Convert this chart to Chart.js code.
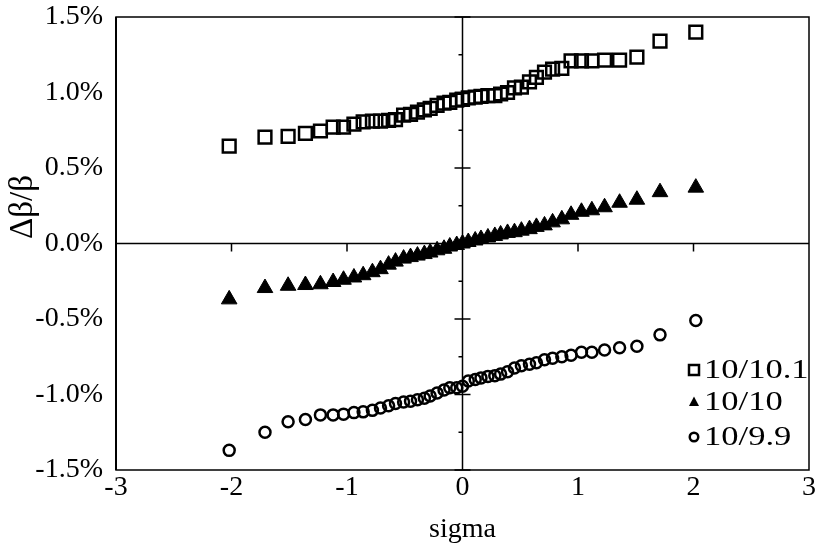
<!DOCTYPE html>
<html>
<head>
<meta charset="utf-8">
<script src="https://cdn.jsdelivr.net/npm/chart.js@4.4.0/dist/chart.umd.min.js"></script>
<style>
body { margin: 0; background: #fff; }
canvas { display: block; }
</style>
</head>
<body>
<canvas id="chart" width="836" height="558"></canvas>
<script>
// normal quantile position of each run (same for all three sets)
let sigma = [-2.02, -1.71, -1.51, -1.36, -1.23, -1.12, -1.03, -0.94, -0.86, -0.78,
    -0.71, -0.64, -0.58, -0.51, -0.45, -0.39, -0.33, -0.28, -0.22, -0.16,
    -0.11, -0.05, 0, 0.05, 0.11, 0.16, 0.22, 0.28, 0.33, 0.39,
    0.45, 0.51, 0.58, 0.64, 0.71, 0.78, 0.86, 0.94, 1.03, 1.12,
    1.23, 1.36, 1.51, 1.71, 2.02];

// delta beta / beta in %
let beta101 = [0.645, 0.705, 0.71, 0.73, 0.745, 0.77, 0.77, 0.79, 0.805, 0.81,
    0.81, 0.815, 0.82, 0.85, 0.855, 0.87, 0.885, 0.895, 0.915, 0.93,
    0.935, 0.95, 0.955, 0.965, 0.97, 0.975, 0.98, 0.98, 0.99, 1.0,
    1.03, 1.035, 1.07, 1.10, 1.135, 1.155, 1.16, 1.21, 1.21, 1.21,
    1.215, 1.215, 1.235, 1.34, 1.40];
let beta100 = [-0.37, -0.295, -0.28, -0.275, -0.27, -0.255, -0.24, -0.225, -0.21, -0.19,
    -0.17, -0.14, -0.12, -0.10, -0.09, -0.08, -0.07, -0.06, -0.045, -0.035,
    -0.02, -0.01, 0.0, 0.01, 0.02, 0.03, 0.04, 0.05, 0.06, 0.07,
    0.075, 0.085, 0.095, 0.11, 0.12, 0.14, 0.16, 0.19, 0.21, 0.22,
    0.24, 0.27, 0.29, 0.34, 0.37];
let beta99 = [-1.37, -1.25, -1.18, -1.165, -1.135, -1.135, -1.13, -1.12, -1.115, -1.105,
    -1.09, -1.075, -1.06, -1.05, -1.045, -1.035, -1.025, -1.01, -0.99, -0.97,
    -0.955, -0.955, -0.945, -0.91, -0.90, -0.89, -0.88, -0.875, -0.865, -0.85,
    -0.825, -0.81, -0.80, -0.79, -0.77, -0.76, -0.75, -0.74, -0.72, -0.72,
    -0.705, -0.69, -0.68, -0.605, -0.51];

let labels = ["10/10.1", "10/10", "10/9.9"];
let xTicks = [-3, -2, -1, 0, 1, 2, 3];
let yTicks = [-1.5, -1.0, -0.5, 0.0, 0.5, 1.0, 1.5];

const serif = '"Liberation Serif", "Times New Roman", serif';

function points(ys) {
    return sigma.map((x, i) => ({x: x, y: ys[i]}));
}

function marker(ctx, style, x, y, r) {
    ctx.beginPath();
    if (style === 'rect') {
        ctx.rect(x - r, y - r, 2 * r, 2 * r);
        ctx.stroke();
    } else if (style === 'triangle') {
        ctx.moveTo(x, y - r * 1.1);
        ctx.lineTo(x + r, y + r * 0.8);
        ctx.lineTo(x - r, y + r * 0.8);
        ctx.closePath();
        ctx.fill();
    } else {
        ctx.arc(x, y, r * 0.85, 0, Math.PI * 2);
        ctx.stroke();
    }
}

const frame = {
    id: 'frame',
    beforeDatasetsDraw(chart) {
        let ctx = chart.ctx;
        let a = chart.chartArea;
        let xs = chart.scales.x, ys = chart.scales.y;
        let x0 = xs.getPixelForValue(0), y0 = ys.getPixelForValue(0);
        ctx.save();
        ctx.strokeStyle = '#000';
        ctx.lineWidth = 1.5;
        ctx.strokeRect(a.left, a.top, a.right - a.left, a.bottom - a.top);
        ctx.lineWidth = 2;
        ctx.beginPath();
        ctx.moveTo(a.left, a.top);
        ctx.lineTo(a.left, a.bottom);
        ctx.stroke();
        // axes crossing at zero
        ctx.lineWidth = 1.5;
        ctx.beginPath();
        ctx.moveTo(a.left, y0);
        ctx.lineTo(a.right, y0);
        ctx.moveTo(x0, a.top);
        ctx.lineTo(x0, a.bottom);
        xTicks.slice(1, -1).forEach(v => {
            let px = xs.getPixelForValue(v);
            ctx.moveTo(px, y0);
            ctx.lineTo(px, y0 + 8);
        });
        for (let v = -1.5; v <= 1.5; v += 0.25) {
            let py = ys.getPixelForValue(v);
            let major = Math.abs(v * 2 - Math.round(v * 2)) < 0.01;
            ctx.moveTo(x0 - (major ? 8 : 4), py);
            ctx.lineTo(x0 + (major ? 8 : 0), py);
        }
        ctx.stroke();
        ctx.restore();
    },
    afterDraw(chart) {
        let ctx = chart.ctx;
        let a = chart.chartArea;
        ctx.save();
        ctx.fillStyle = '#000';
        ctx.strokeStyle = '#000';
        ctx.textBaseline = 'middle';
        // axis titles
        ctx.font = '28px ' + serif;
        ctx.textAlign = 'center';
        ctx.fillText('sigma', (a.left + a.right) / 2, 530);
        ctx.save();
        ctx.translate(23, 207);
        ctx.rotate(-Math.PI / 2);
        ctx.font = '33px ' + serif;
        ctx.fillText('Δβ/β', 0, 0);
        ctx.restore();
        // legend
        let rows = [370, 402, 437];
        chart.data.datasets.forEach((ds, i) => {
            ctx.lineWidth = 2.5;
            marker(ctx, ds.pointStyle, 694, rows[i], 5);
            ctx.save();
            ctx.translate(704, rows[i] + 1);
            ctx.scale(1.28, 1);
            ctx.font = '27px ' + serif;
            ctx.textAlign = 'left';
            ctx.fillText(ds.label, 0, 0);
            ctx.restore();
        });
        ctx.restore();
    }
};

Chart.defaults.font.family = serif;
Chart.defaults.color = '#000';

new Chart("chart", {
    type: "scatter",
    data: {
        datasets: [{
            label: labels[0],
            data: points(beta101),
            pointStyle: 'rect',
            pointRadius: 9,
            borderWidth: 2.5,
            borderColor: '#000',
            backgroundColor: 'rgba(0,0,0,0)'
        }, {
            label: labels[1],
            data: points(beta100),
            pointStyle: 'triangle',
            pointRadius: 9,
            borderWidth: 1,
            borderColor: '#000',
            backgroundColor: '#000'
        }, {
            label: labels[2],
            data: points(beta99),
            pointStyle: 'circle',
            pointRadius: 5.5,
            borderWidth: 2.5,
            borderColor: '#000',
            backgroundColor: 'rgba(0,0,0,0)'
        }]
    },
    options: {
        responsive: false,
        animation: false,
        devicePixelRatio: 1,
        layout: {padding: {top: 17, right: 27, left: 0, bottom: 0}},
        plugins: {
            legend: {display: false},
            tooltip: {enabled: false}
        },
        scales: {
            x: {
                type: 'linear',
                min: -3,
                max: 3,
                afterFit: s => { s.height = 88; s.paddingLeft = 0; s.paddingRight = 0; },
                afterBuildTicks: s => { s.ticks = xTicks.map(v => ({value: v})); },
                grid: {display: false, drawTicks: false},
                border: {display: false},
                ticks: {font: {size: 28}, padding: 1, maxRotation: 0}
            },
            y: {
                type: 'linear',
                min: -1.5,
                max: 1.5,
                afterFit: s => { s.width = 116; s.paddingTop = 0; s.paddingBottom = 0; },
                afterBuildTicks: s => { s.ticks = yTicks.map(v => ({value: v})); },
                grid: {display: false, drawTicks: false},
                border: {display: false},
                ticks: {
                    font: {size: 28},
                    padding: 13,
                    callback: v => v.toFixed(1) + '%'
                }
            }
        }
    },
    plugins: [frame]
});
</script>
</body>
</html>
